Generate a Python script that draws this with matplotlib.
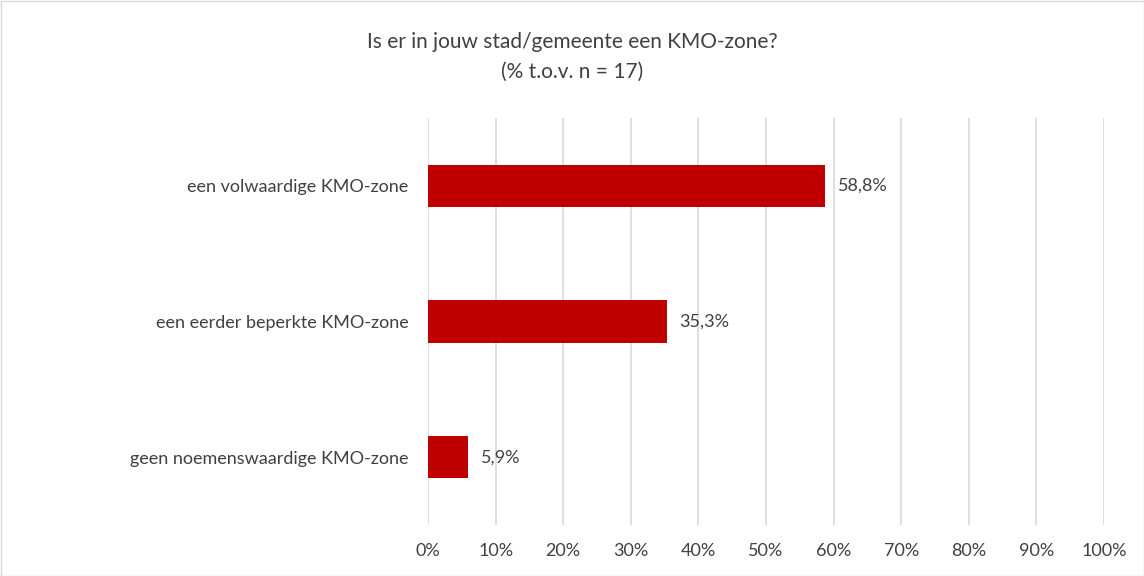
import matplotlib.pyplot as plt
from matplotlib.patches import Rectangle

plt.rcParams['font.family'] = ['Lato', 'DejaVu Sans']

# data
categories = ['een volwaardige KMO-zone', 'een eerder beperkte KMO-zone', 'geen noemenswaardige KMO-zone']
values = [58.8, 35.3, 5.9]
value_labels = ['58,8%', '35,3%', '5,9%']
ticks = list(range(0, 101, 10))
tick_labels = [f'{t}%' for t in ticks]

fig = plt.figure(figsize=(11.44, 5.76), dpi=100)
ax = fig.add_axes([428 / 1144, 1 - 525 / 576, 676 / 1144, 407 / 576])

ypos = list(range(len(categories)))
ax.barh(ypos, values, height=0.31, color='#C00000', zorder=3)
for y, v, lab in zip(ypos, values, value_labels):
    ax.text(v + 1.9, y, lab, va='center', ha='left', fontsize=13, color='#404040')

ax.set_xlim(0, 100)
ax.set_ylim(len(categories) - 0.5, -0.5)
ax.set_yticks(ypos)
ax.set_yticklabels(categories, fontsize=13, color='#404040')
ax.set_xticks(ticks)
ax.set_xticklabels(tick_labels, fontsize=13, color='#404040')
ax.tick_params(axis='x', length=0, pad=13)
ax.tick_params(axis='y', length=0, pad=14)
ax.grid(axis='x', color='#d9d9d9', linewidth=1.2, zorder=0)
for s in ax.spines.values():
    s.set_visible(False)

fig.text(0.5, 1 - 42 / 576, 'Is er in jouw stad/gemeente een KMO-zone?', ha='center', va='center',
         fontsize=15, color='#404040')
fig.text(0.5, 1 - 72 / 576, '(% t.o.v. n = 17)', ha='center', va='center', fontsize=15, color='#404040')

fig.patches.append(Rectangle((0.5 / 1144, 0.5 / 576), 1 - 1 / 1144, 1 - 1 / 576, transform=fig.transFigure,
                             fill=False, edgecolor='#d9d9d9', linewidth=1))

plt.savefig('out.png', dpi=100)
